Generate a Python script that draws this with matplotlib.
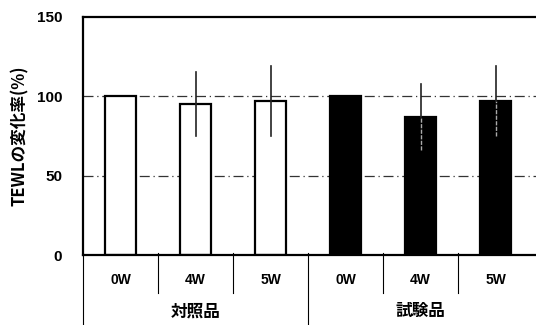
import matplotlib
matplotlib.use("Agg")
import matplotlib.pyplot as plt
import numpy as np

plt.rcParams['font.family'] = ['Liberation Sans', 'Noto Sans CJK JP', 'DejaVu Sans']

weeks = ['0W', '4W', '5W']
groups = ['対照品', '試験品']
control_vals = [100, 95, 97]
control_err = [0, 20, 22]
test_vals = [100, 87, 97]
test_err = [0, 21, 22]

fig = plt.figure(figsize=(5.36, 3.25), dpi=100)
ax = fig.add_axes([0.155, 0.215, 0.845, 0.733])

x = np.arange(6)
vals = control_vals + test_vals
errs = control_err + test_err
colors = ['white'] * 3 + ['black'] * 3

# grid lines first so bars cover them
for g in [50, 100]:
    ax.axhline(g, color='#333333', lw=0.9, ls=(0, (8, 3, 1, 3)), zorder=0)

ax.bar(x, vals, width=0.42, color=colors, edgecolor='black', lw=1.6, zorder=2)
for xi, v, e in zip(x, vals, errs):
    if e > 0:
        if xi < 3:
            ax.plot([xi, xi], [v - e, v + e], color='#222222', lw=1.2, zorder=3)
        else:
            ax.plot([xi, xi], [v - e, v], color='#aaaaaa', lw=1.0, ls=(0, (3, 1)), zorder=3)
            ax.plot([xi, xi], [v, v + e], color='#222222', lw=1.2, zorder=3)

ax.set_xlim(-0.5, 5.54)
ax.set_ylim(0, 150)
ax.set_yticks([0, 50, 100, 150])
ax.tick_params(axis='y', length=0, pad=15, labelsize=11)
ax.set_xticks([])
for lab in ax.get_yticklabels():
    lab.set_fontweight('bold')
ax.spines['right'].set_visible(False)
for s in ['left', 'bottom', 'top']:
    ax.spines[s].set_linewidth(1.6)

ax.set_ylabel('TEWLの変化率(%)', fontsize=12, fontweight='bold',
              family=['Noto Sans CJK JP', 'DejaVu Sans'])
ax.yaxis.set_label_coords(-0.12, 0.5)

trans = ax.get_xaxis_transform()
# category labels
for i in range(6):
    ax.text(x[i], -0.105, weeks[i % 3], transform=trans, ha='center', va='center',
            fontsize=10, fontweight='bold', clip_on=False)
for gi, g in enumerate(groups):
    ax.text(gi * 3 + 1, -0.235, g, transform=trans, ha='center', va='center',
            fontsize=12, fontweight='bold', family=['Noto Sans CJK JP', 'DejaVu Sans'], clip_on=False)

# separator lines under the axis
for sep in [0.5, 1.5, 3.5, 4.5]:
    ax.plot([sep, sep], [0.01, -0.16], transform=trans, color='black', lw=0.8, clip_on=False)
for sep in [-0.5, 2.5]:
    ax.plot([sep, sep], [0.01, -0.30], transform=trans, color='black', lw=0.8, clip_on=False)

fig.savefig('out.png', dpi=100)
